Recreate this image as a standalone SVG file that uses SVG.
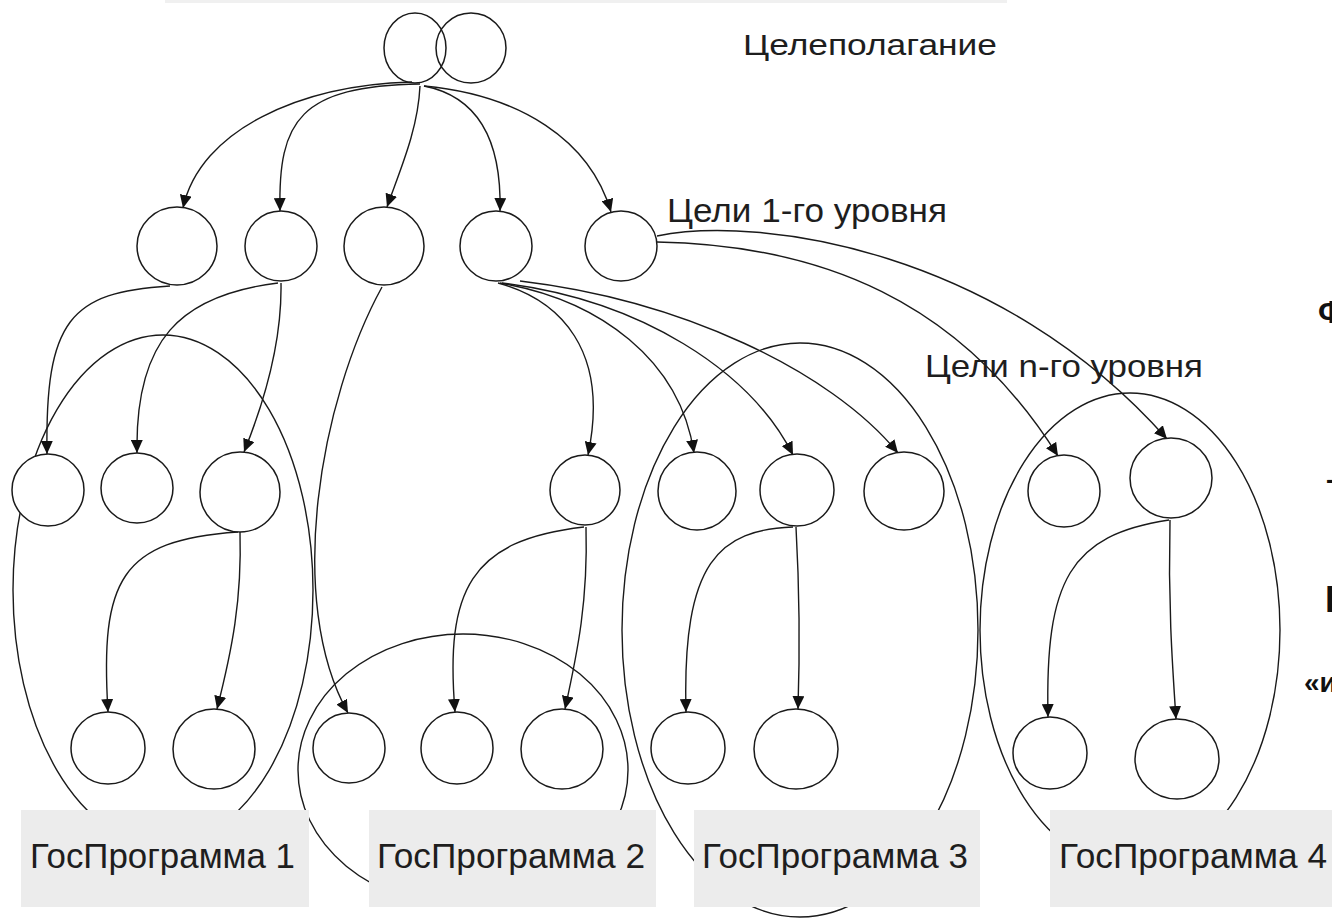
<svg xmlns="http://www.w3.org/2000/svg" width="1332" height="920" viewBox="0 0 1332 920">
<style>
.nd{fill:#fff;stroke:#1a1a1a;stroke-width:1.5}
.tp{fill:none;stroke:#1a1a1a;stroke-width:1.5}
.rg{fill:none;stroke:#1a1a1a;stroke-width:1.4}
.ed{fill:none;stroke:#1a1a1a;stroke-width:1.4;marker-end:url(#ah)}
.bx{fill:#ececec;stroke:none}
.lb{font-family:"Liberation Sans",Arial,sans-serif;fill:#1e1e1e}
.bd{font-family:"Liberation Sans",Arial,sans-serif;font-weight:bold;fill:#111}
</style>
<defs>
<marker id="ah" markerUnits="userSpaceOnUse" markerWidth="13" markerHeight="12" refX="13" refY="6" orient="auto">
<path d="M0,0 L13,6 L0,12 z" fill="#111"/>
</marker>
</defs>
<rect width="1332" height="920" fill="#fff"/>
<rect x="165" y="0" width="842" height="3" fill="#f0f0f0"/>

<g id="regions">
<ellipse id="region-gp1" class="rg" cx="163" cy="590" rx="150" ry="255"/>
<ellipse id="region-gp2" class="rg" cx="463" cy="770" rx="165" ry="136"/>
<ellipse id="region-gp3" class="rg" cx="800" cy="630" rx="178" ry="287"/>
<ellipse id="region-gp4" class="rg" cx="1130" cy="630" rx="150" ry="237"/>
</g>

<g id="connectors">
<path class="ed" d="M412,82 C300,85 200,130 183,208"/>
<path class="ed" d="M420,84 C300,86 278,120 280,211"/>
<path class="ed" d="M420,86 C418,130 400,170 387,207"/>
<path class="ed" d="M424,86 C470,95 502,130 500,211"/>
<path class="ed" d="M424,86 C520,95 590,140 611,212"/>

<path class="ed" d="M170,286 C70,292 45,320 47,454"/>
<path class="ed" d="M278,283 C180,295 135,340 137,453"/>
<path class="ed" d="M281,283 C282,340 265,400 244,452"/>
<path class="ed" d="M382,287 C320,400 285,600 348,713"/>

<path class="ed" d="M498,283 C560,300 610,350 588,455"/>
<path class="ed" d="M500,283 C600,300 680,360 694,453"/>
<path class="ed" d="M502,283 C640,300 750,370 793,455"/>
<path class="ed" d="M520,281 C680,300 830,370 898,453"/>

<path class="ed" d="M657,242 C820,245 960,300 1058,456"/>
<path class="ed" d="M657,236 C760,215 1000,250 1167,439"/>

<path class="ed" d="M238,532 C120,540 100,580 108,712"/>
<path class="ed" d="M240,532 C242,600 232,650 217,709"/>
<path class="ed" d="M584,527 C470,540 445,590 455,712"/>
<path class="ed" d="M586,527 C588,600 578,650 565,709"/>
<path class="ed" d="M793,527 C720,530 682,560 686,712"/>
<path class="ed" d="M796,527 C800,600 800,650 798,709"/>
<path class="ed" d="M1169,520 C1070,535 1045,580 1048,717"/>
<path class="ed" d="M1170,520 C1168,600 1172,660 1176,719"/>
</g>

<g id="n-top"><ellipse class="tp" cx="415" cy="48" rx="31" ry="35"/><ellipse class="tp" cx="471" cy="48" rx="35" ry="35"/></g>

<g id="n1a"><ellipse class="nd" cx="177" cy="246" rx="40" ry="39"/></g>
<g id="n1b"><ellipse class="nd" cx="281" cy="246" rx="36" ry="35"/></g>
<g id="n1c"><ellipse class="nd" cx="384" cy="246" rx="40" ry="39"/></g>
<g id="n1d"><ellipse class="nd" cx="496" cy="246" rx="36" ry="35"/></g>
<g id="n1e"><ellipse class="nd" cx="621" cy="246" rx="36" ry="35"/></g>

<g id="n2a"><ellipse class="nd" cx="48" cy="490" rx="36" ry="36"/></g>
<g id="n2b"><ellipse class="nd" cx="137" cy="488" rx="36" ry="35"/></g>
<g id="n2c"><ellipse class="nd" cx="240" cy="492" rx="40" ry="40"/></g>
<g id="n2d"><ellipse class="nd" cx="585" cy="490" rx="35" ry="35"/></g>
<g id="n2e"><ellipse class="nd" cx="697" cy="491" rx="39" ry="39"/></g>
<g id="n2f"><ellipse class="nd" cx="797" cy="490" rx="37" ry="36"/></g>
<g id="n2g"><ellipse class="nd" cx="904" cy="491" rx="40" ry="39"/></g>
<g id="n2h"><ellipse class="nd" cx="1064" cy="491" rx="36" ry="36"/></g>
<g id="n2i"><ellipse class="nd" cx="1171" cy="478" rx="41" ry="40"/></g>

<g id="n3a"><ellipse class="nd" cx="108" cy="748" rx="37" ry="36"/></g>
<g id="n3b"><ellipse class="nd" cx="214" cy="749" rx="41" ry="40"/></g>
<g id="n3c"><ellipse class="nd" cx="349" cy="748" rx="36" ry="35"/></g>
<g id="n3d"><ellipse class="nd" cx="457" cy="748" rx="36" ry="36"/></g>
<g id="n3e"><ellipse class="nd" cx="562" cy="749" rx="41" ry="40"/></g>
<g id="n3f"><ellipse class="nd" cx="688" cy="748" rx="37" ry="36"/></g>
<g id="n3g"><ellipse class="nd" cx="796" cy="749" rx="42" ry="40"/></g>
<g id="n3h"><ellipse class="nd" cx="1050" cy="753" rx="37" ry="36"/></g>
<g id="n3i"><ellipse class="nd" cx="1177" cy="759" rx="42" ry="40"/></g>

<g id="gp1"><rect class="bx" x="21" y="810" width="288" height="97"/><text class="lb" x="30" y="868" font-size="35" textLength="265" lengthAdjust="spacingAndGlyphs">ГосПрограмма 1</text></g>
<g id="gp2"><rect class="bx" x="369" y="810" width="287" height="97"/><text class="lb" x="377" y="868" font-size="35" textLength="268" lengthAdjust="spacingAndGlyphs">ГосПрограмма 2</text></g>
<g id="gp3"><rect class="bx" x="694" y="810" width="286" height="97"/><text class="lb" x="702" y="868" font-size="35" textLength="266" lengthAdjust="spacingAndGlyphs">ГосПрограмма 3</text></g>
<g id="gp4"><rect class="bx" x="1050" y="810" width="290" height="97"/><text class="lb" x="1059" y="868" font-size="35" textLength="268" lengthAdjust="spacingAndGlyphs">ГосПрограмма 4</text></g>

<g id="labels">
<text class="lb" x="743" y="55" font-size="30" textLength="254" lengthAdjust="spacingAndGlyphs">Целеполагание</text>
<text class="lb" x="667" y="222" font-size="33" textLength="280" lengthAdjust="spacingAndGlyphs">Цели 1-го уровня</text>
<text class="lb" x="925" y="377" font-size="32" textLength="278" lengthAdjust="spacingAndGlyphs">Цели n-го уровня</text>
<text class="bd" x="1318" y="323" font-size="32">Ф</text>
<text class="bd" x="1326" y="488" font-size="26">-</text>
<text class="bd" x="1325" y="612" font-size="36">П</text>
<text class="bd" x="1304" y="692" font-size="28">«и</text>
</g>
</svg>
